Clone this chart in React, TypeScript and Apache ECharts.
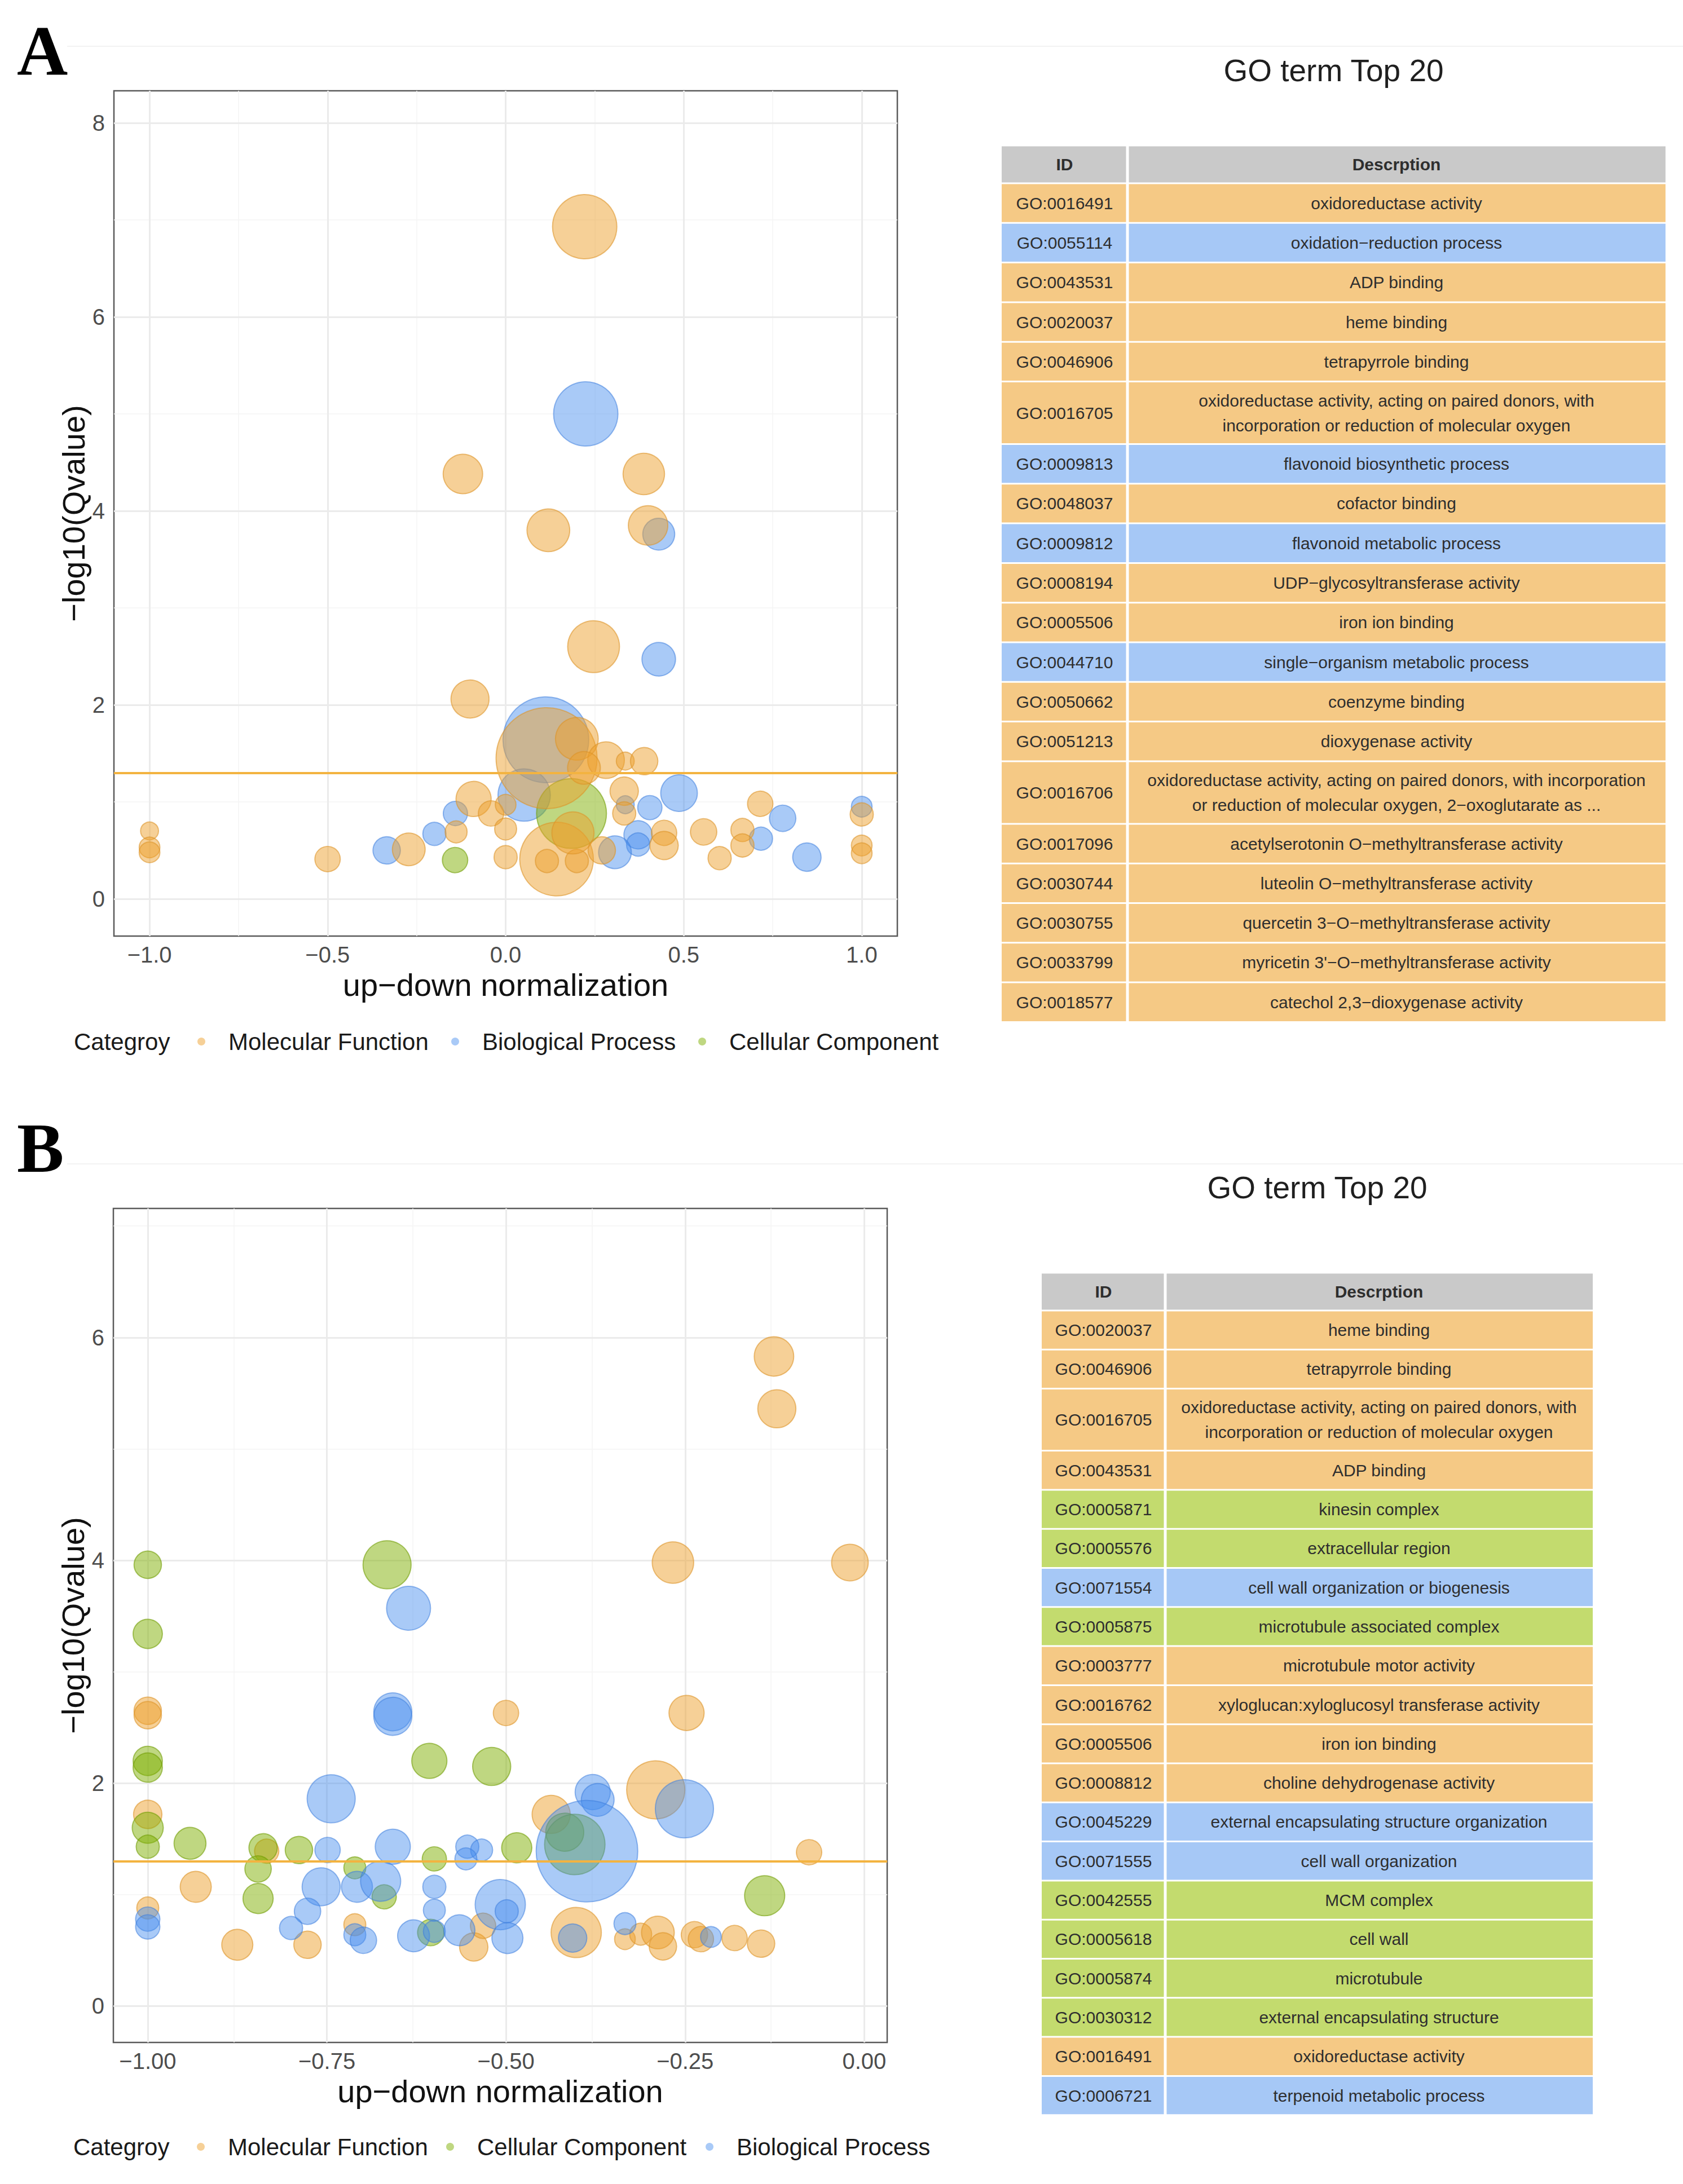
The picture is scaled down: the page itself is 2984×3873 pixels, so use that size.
import React, { useEffect, useRef } from 'react';
import * as echarts from 'echarts';

// ---------- categories ----------
const MF = 'Molecular Function';
const BP = 'Biological Process';
const CC = 'Cellular Component';
const LEGEND_TITLE = 'Categroy';
const LEGEND_A = [MF, BP, CC];
const LEGEND_B = [MF, CC, BP];

// ---------- panel A bubbles: [up-down normalization, -log10(Qvalue), gene count] ----------
const A_MF: number[][] = [
  [0.222, 6.93, 77], [-0.12, 4.38, 29], [0.388, 4.38, 32], [0.12, 3.8, 34], [0.4, 3.85, 29],
  [0.247, 2.6, 50], [-0.1, 2.06, 27], [0.115, 1.45, 190], [0.2, 1.65, 34], [0.282, 1.43, 25],
  [0.22, 1.35, 20], [0.336, 1.42, 6], [0.389, 1.42, 14], [-0.09, 1.03, 23], [-0.041, 0.88, 12],
  [0.0, 0.97, 8], [0.0, 0.72, 9], [0.0, 0.43, 10], [0.143, 0.41, 101], [0.116, 0.39, 10],
  [0.2, 0.39, 10], [0.189, 0.68, 33], [-0.139, 0.69, 9], [-0.272, 0.51, 20], [-0.5, 0.41, 12],
  [-1.0, 0.7, 6], [-1.0, 0.53, 8], [-1.0, 0.48, 8], [0.333, 1.11, 15], [0.333, 0.88, 10],
  [0.445, 0.68, 12], [0.445, 0.55, 15], [0.556, 0.69, 13], [0.601, 0.42, 10], [0.665, 0.71, 10],
  [0.665, 0.55, 10], [0.715, 0.98, 12], [1.0, 0.87, 10], [1.0, 0.55, 8], [1.0, 0.47, 8],
  [0.27, 0.5, 14],
];
const A_BP: number[][] = [
  [0.225, 5.0, 77], [0.43, 3.76, 19], [0.43, 2.47, 21], [0.113, 1.64, 137], [0.052, 1.07, 51],
  [-0.141, 0.88, 11], [-0.2, 0.67, 10], [-0.334, 0.5, 14], [0.336, 0.97, 6], [0.405, 0.94, 11],
  [0.487, 1.09, 25], [0.372, 0.66, 15], [0.372, 0.56, 10], [0.307, 0.48, 20], [0.717, 0.62, 10],
  [0.778, 0.83, 13], [0.846, 0.43, 15], [1.0, 0.95, 8],
];
const A_CC: number[][] = [
  [0.185, 0.88, 91], [-0.142, 0.4, 12],
];

// ---------- panel B bubbles ----------
const B_MF: number[][] = [
  [-0.126, 5.83, 29], [-0.122, 5.36, 27], [-0.267, 3.98, 32], [-0.02, 3.98, 25], [-1.0, 2.65, 14],
  [-1.0, 2.61, 14], [-0.5, 2.63, 12], [-0.248, 2.63, 23], [-0.291, 1.94, 63], [-0.437, 1.72, 27],
  [-1.0, 1.72, 15], [-0.834, 1.39, 11], [-0.077, 1.38, 12], [-0.933, 1.07, 18], [-1.0, 0.88, 9],
  [-0.711, 0.73, 9], [-0.875, 0.55, 18], [-0.777, 0.55, 14], [-0.545, 0.53, 15], [-0.532, 0.72, 12],
  [-0.402, 0.66, 47], [-0.334, 0.6, 8], [-0.312, 0.645, 9], [-0.288, 0.66, 20], [-0.281, 0.535, 14],
  [-0.237, 0.64, 13], [-0.228, 0.6, 12], [-0.181, 0.61, 12], [-0.144, 0.56, 14],
];
const B_CC: number[][] = [
  [-0.666, 3.96, 43], [-1.0, 3.96, 14], [-1.0, 3.34, 16], [-1.0, 2.2, 16], [-1.0, 2.14, 16],
  [-0.607, 2.2, 23], [-0.52, 2.15, 27], [-1.0, 1.6, 18], [-1.0, 1.43, 10], [-0.941, 1.46, 19],
  [-0.839, 1.42, 15], [-0.789, 1.4, 14], [-0.6, 1.32, 11], [-0.846, 1.23, 13], [-0.846, 0.965, 17],
  [-0.711, 1.24, 9], [-0.67, 0.98, 11], [-0.605, 0.66, 13], [-0.485, 1.42, 17], [-0.418, 1.56, 27],
  [-0.404, 1.45, 68], [-0.139, 0.99, 30],
];
const B_BP: number[][] = [
  [-0.636, 3.57, 36], [-0.658, 2.64, 27], [-0.658, 2.6, 27], [-0.744, 1.86, 43], [-0.379, 1.92, 23],
  [-0.372, 1.85, 20], [-0.251, 1.77, 63], [-0.387, 1.39, 192], [-0.749, 1.4, 12], [-0.658, 1.43, 23],
  [-0.554, 1.43, 10], [-0.534, 1.4, 9], [-0.556, 1.32, 9], [-0.758, 1.07, 27], [-0.708, 1.07, 18],
  [-0.675, 1.12, 30], [-0.6, 1.07, 10], [-0.777, 0.85, 13], [-0.8, 0.7, 10], [-1.0, 0.78, 11],
  [-1.0, 0.71, 11], [-0.711, 0.64, 9], [-0.699, 0.59, 13], [-0.629, 0.63, 19], [-0.6, 0.86, 9],
  [-0.6, 0.67, 9], [-0.565, 0.68, 18], [-0.508, 0.91, 47], [-0.499, 0.85, 10], [-0.498, 0.61, 18],
  [-0.407, 0.61, 15], [-0.334, 0.74, 9], [-0.214, 0.62, 8],
];

// ---------- axes ----------
const A_X_TICKS = [-1, -0.5, 0, 0.5, 1];
const A_X_MINOR = [-0.75, -0.25, 0.25, 0.75];
const A_Y_TICKS = [0, 2, 4, 6, 8];
const A_Y_MINOR = [1, 3, 5, 7];
const B_X_TICKS = [-1, -0.75, -0.5, -0.25, 0];
const B_X_MINOR = [-0.875, -0.625, -0.375, -0.125];
const B_Y_TICKS = [0, 2, 4, 6];
const B_Y_MINOR = [1, 3, 5, 7];
const THRESHOLD = 1.301; // -log10(0.05)

const X_TITLE = 'up−down normalization';
const Y_TITLE = '−log10(Qvalue)';

// ---------- tables ----------
const TABLE_TITLE = 'GO term Top 20';
const TABLE_HEAD = ['ID', 'Descrption'];
const TABLE_A_ID = ['GO:0016491', 'GO:0055114', 'GO:0043531', 'GO:0020037', 'GO:0046906', 'GO:0016705', 'GO:0009813', 'GO:0048037', 'GO:0009812', 'GO:0008194', 'GO:0005506', 'GO:0044710', 'GO:0050662', 'GO:0051213', 'GO:0016706', 'GO:0017096', 'GO:0030744', 'GO:0030755', 'GO:0033799', 'GO:0018577'];
const TABLE_A_DESC = ['oxidoreductase activity', 'oxidation−reduction process', 'ADP binding', 'heme binding', 'tetrapyrrole binding', 'oxidoreductase activity, acting on paired donors, with\nincorporation or reduction of molecular oxygen', 'flavonoid biosynthetic process', 'cofactor binding', 'flavonoid metabolic process', 'UDP−glycosyltransferase activity', 'iron ion binding', 'single−organism metabolic process', 'coenzyme binding', 'dioxygenase activity', 'oxidoreductase activity, acting on paired donors, with incorporation\nor reduction of molecular oxygen, 2−oxoglutarate as ...', 'acetylserotonin O−methyltransferase activity', 'luteolin O−methyltransferase activity', 'quercetin 3−O−methyltransferase activity', "myricetin 3'−O−methyltransferase activity", 'catechol 2,3−dioxygenase activity'];
const TABLE_A_CAT = [MF, BP, MF, MF, MF, MF, BP, MF, BP, MF, MF, BP, MF, MF, MF, MF, MF, MF, MF, MF];
const TABLE_B_ID = ['GO:0020037', 'GO:0046906', 'GO:0016705', 'GO:0043531', 'GO:0005871', 'GO:0005576', 'GO:0071554', 'GO:0005875', 'GO:0003777', 'GO:0016762', 'GO:0005506', 'GO:0008812', 'GO:0045229', 'GO:0071555', 'GO:0042555', 'GO:0005618', 'GO:0005874', 'GO:0030312', 'GO:0016491', 'GO:0006721'];
const TABLE_B_DESC = ['heme binding', 'tetrapyrrole binding', 'oxidoreductase activity, acting on paired donors, with\nincorporation or reduction of molecular oxygen', 'ADP binding', 'kinesin complex', 'extracellular region', 'cell wall organization or biogenesis', 'microtubule associated complex', 'microtubule motor activity', 'xyloglucan:xyloglucosyl transferase activity', 'iron ion binding', 'choline dehydrogenase activity', 'external encapsulating structure organization', 'cell wall organization', 'MCM complex', 'cell wall', 'microtubule', 'external encapsulating structure', 'oxidoreductase activity', 'terpenoid metabolic process'];
const TABLE_B_CAT = [MF, MF, MF, MF, CC, CC, BP, CC, MF, MF, MF, MF, BP, BP, CC, CC, CC, CC, MF, BP];

// ---------- styles / layout ----------
const FONT = 'Liberation Sans, Arial, Helvetica, sans-serif';
const STYLE: Record<string, { fill: string; stroke: string; table: string }> = {
  [MF]: { fill: 'rgba(236,160,45,0.62)', stroke: 'rgba(220,148,40,0.72)', table: '#F5C985' },
  [BP]: { fill: 'rgba(70,140,238,0.58)', stroke: 'rgba(60,125,220,0.65)', table: '#A6C8F6' },
  [CC]: { fill: 'rgba(125,175,0,0.62)', stroke: 'rgba(110,155,0,0.7)', table: '#C3DB6E' },
};
const PAGE_W = 2984;
const PAGE_H = 3873;
const SIZE_K = 13;
const LEGEND_DOT = 14;
const LEGEND_FONT = 42;

const PANELS = [
  {
    grid: { left: 202, top: 161, width: 1389, height: 1499 },
    x: [-1.1, 1.1], y: [-0.384, 8.331], xDigits: 1,
    xTicks: A_X_TICKS, xMinor: A_X_MINOR, yTicks: A_Y_TICKS, yMinor: A_Y_MINOR,
    // drawing order (last on top)
    series: [[BP, A_BP], [CC, A_CC], [MF, A_MF]] as [string, number[][]][],
    legend: LEGEND_A, legendDots: [357, 807, 1245], legendY: 1847, legendTitleX: 131,
    letter: 'A', letterY: 90, lineY: 82,
  },
  {
    grid: { left: 201, top: 2143, width: 1372, height: 1479 },
    x: [-1.048, 0.032], y: [-0.327, 7.158], xDigits: 2,
    xTicks: B_X_TICKS, xMinor: B_X_MINOR, yTicks: B_Y_TICKS, yMinor: B_Y_MINOR,
    series: [[MF, B_MF], [CC, B_CC], [BP, B_BP]] as [string, number[][]][],
    legend: LEGEND_B, legendDots: [356, 798, 1258], legendY: 3807, legendTitleX: 130,
    letter: 'B', letterY: 2036, lineY: 2064,
  },
];

const TABLES = [
  { ids: TABLE_A_ID, desc: TABLE_A_DESC, cat: TABLE_A_CAT, left: 1776, mid: 1999, right: 2953, top: 258, header: 67, row: 70.3, row2: 111, titleY: 125 },
  { ids: TABLE_B_ID, desc: TABLE_B_DESC, cat: TABLE_B_CAT, left: 1847, mid: 2066, right: 2824, top: 2257, header: 67, row: 69.3, row2: 110, titleY: 2106 },
];

const fmtNum = (v: number, d: number) => (v < 0 ? '−' : '') + Math.abs(v).toFixed(d);

function buildTable(t: typeof TABLES[number]) {
  const els: any[] = [];
  const cx = (t.left + t.right) / 2;
  els.push({ type: 'text', x: cx, y: t.titleY, style: { text: TABLE_TITLE, fontSize: 55, fontFamily: FONT, fill: '#1f1f1f', align: 'center', verticalAlign: 'middle' } });
  const cell = (y0: number, h: number, fill: string, a: string, b: string, bold: boolean) => {
    els.push({ type: 'rect', shape: { x: t.left, y: y0 + 1.5, width: t.mid - t.left - 2.5, height: h - 3 }, style: { fill } });
    els.push({ type: 'rect', shape: { x: t.mid + 2.5, y: y0 + 1.5, width: t.right - t.mid - 2.5, height: h - 3 }, style: { fill } });
    const ts = { fontSize: 30, fontFamily: FONT, fill: '#2e2e2e', align: 'center', verticalAlign: 'middle', lineHeight: 44, fontWeight: bold ? 'bold' : 'normal' };
    els.push({ type: 'text', x: (t.left + t.mid) / 2, y: y0 + h / 2, style: { ...ts, text: a } });
    els.push({ type: 'text', x: (t.mid + t.right) / 2, y: y0 + h / 2, style: { ...ts, text: b } });
  };
  cell(t.top, t.header, '#C9C9C9', TABLE_HEAD[0], TABLE_HEAD[1], true);
  let y = t.top + t.header;
  t.ids.forEach((id, i) => {
    const h = t.desc[i].includes('\n') ? t.row2 : t.row;
    cell(y, h, STYLE[t.cat[i]].table, id, t.desc[i], false);
    y += h;
  });
  return els;
}

function buildOption() {
  const grid: any[] = [];
  const xAxis: any[] = [];
  const yAxis: any[] = [];
  const series: any[] = [];
  const legend: any[] = [];
  const graphic: any[] = [];

  const major = { color: '#EBEBEB', width: 3, type: 'solid' };
  const minor = { color: '#F4F4F4', width: 1.5, type: 'solid' };

  PANELS.forEach((p, gi) => {
    grid.push({ ...p.grid, show: true, borderColor: '#5a5a5a', borderWidth: 2.5, backgroundColor: '#fff', containLabel: false });
    const tickStyle = { show: true, length: 10, inside: false, lineStyle: { color: '#4a4a4a', width: 2.5 } };
    xAxis.push({
      type: 'value', gridIndex: gi, min: p.x[0], max: p.x[1],
      axisLine: { show: false }, splitLine: { show: false },
      axisTick: { ...tickStyle, customValues: p.xTicks },
      axisLabel: { customValues: p.xTicks, margin: 13, fontSize: 40, fontFamily: FONT, color: '#4D4D4D', formatter: (v: number) => fmtNum(v, p.xDigits) },
      name: X_TITLE, nameLocation: 'middle', nameGap: 58,
      nameTextStyle: { fontSize: 56, fontFamily: FONT, color: '#111' },
    });
    yAxis.push({
      type: 'value', gridIndex: gi, min: p.y[0], max: p.y[1],
      axisLine: { show: false }, splitLine: { show: false },
      axisTick: { ...tickStyle, customValues: p.yTicks },
      axisLabel: { customValues: p.yTicks, margin: 16, fontSize: 40, fontFamily: FONT, color: '#4D4D4D', formatter: (v: number) => fmtNum(v, 0) },
      name: Y_TITLE, nameLocation: 'middle', nameGap: 44,
      nameTextStyle: { fontSize: 56, fontFamily: FONT, color: '#111' },
    });

    const gridLines = [
      ...p.xMinor.map((v) => ({ xAxis: v, lineStyle: minor })),
      ...p.yMinor.map((v) => ({ yAxis: v, lineStyle: minor })),
      ...p.xTicks.map((v) => ({ xAxis: v, lineStyle: major })),
      ...p.yTicks.map((v) => ({ yAxis: v, lineStyle: major })),
    ];

    p.series.forEach(([name, data], si) => {
      const s: any = {
        type: 'scatter', name, xAxisIndex: gi, yAxisIndex: gi, data,
        symbol: 'circle',
        symbolSize: (v: number[]) => SIZE_K * Math.sqrt(v[2]),
        itemStyle: { color: STYLE[name].fill, borderColor: STYLE[name].stroke, borderWidth: 2 },
        emphasis: { disabled: true }, silent: true, z: 3,
      };
      if (si === 0) {
        s.markLine = { silent: true, symbol: ['none', 'none'], z: 1, label: { show: false }, emphasis: { disabled: true }, data: gridLines };
      }
      if (si === p.series.length - 1) {
        s.markLine = { silent: true, symbol: ['none', 'none'], z: 10, label: { show: false }, emphasis: { disabled: true }, data: [{ yAxis: THRESHOLD, lineStyle: { color: '#F3B340', width: 4, type: 'solid' } }] };
      }
      series.push(s);
    });

    p.legend.forEach((name, li) => {
      legend.push({
        data: [name], left: p.legendDots[li] - LEGEND_DOT / 2, top: p.legendY - 25, padding: 0,
        orient: 'horizontal', itemWidth: 86, itemHeight: LEGEND_DOT, icon: 'circle', selectedMode: false,
        itemStyle: { color: STYLE[name].fill, borderWidth: 0 },
        textStyle: { fontSize: LEGEND_FONT, fontFamily: FONT, color: '#1a1a1a', lineHeight: 50 },
      });
    });

    graphic.push({ type: 'text', x: p.legendTitleX, y: p.legendY, style: { text: LEGEND_TITLE, fontSize: LEGEND_FONT, fontFamily: FONT, fill: '#1a1a1a', align: 'left', verticalAlign: 'middle' } });
    graphic.push({ type: 'text', x: 30, y: p.letterY, style: { text: p.letter, fontSize: 125, fontWeight: 'bold', fontFamily: 'Liberation Serif, Times New Roman, serif', fill: '#000', align: 'left', verticalAlign: 'middle' } });
    graphic.push({ type: 'line', shape: { x1: 119, y1: p.lineY, x2: PAGE_W, y2: p.lineY }, style: { stroke: '#F2F2F2', lineWidth: 2 }, silent: true });
  });

  TABLES.forEach((t) => graphic.push(...buildTable(t)));

  return { animation: false, backgroundColor: '#fff', grid, xAxis, yAxis, series, legend, graphic };
}

export default function App() {
  const ref = useRef<HTMLDivElement>(null);
  useEffect(() => {
    document.body.style.margin = '0';
    if (!ref.current) return;
    const chart = echarts.init(ref.current, undefined, { renderer: 'svg' });
    chart.setOption(buildOption() as any);
    return () => chart.dispose();
  }, []);
  return <div ref={ref} style={{ width: PAGE_W, height: PAGE_H, background: '#fff' }} />;
}
